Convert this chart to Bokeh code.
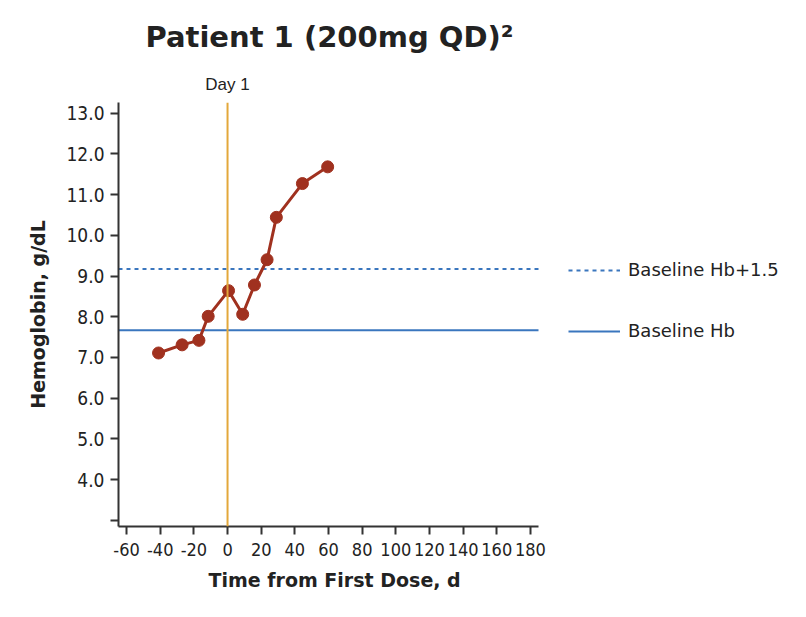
from bokeh.plotting import figure
from bokeh.models import (Span, Legend, LegendItem, FixedTicker, LinearAxis,
                          CustomJSTickFormatter, Range1d, Title)
from bokeh.embed import file_html
from bokeh.resources import INLINE

# ---- data ----
days = [-41, -27, -17, -11.5, 0.6, 9, 16, 23.5, 29, 44.5, 59.5]
hb = [7.11, 7.31, 7.42, 8.01, 8.64, 8.06, 8.78, 9.40, 10.44, 11.27, 11.68]
baseline_hb = 7.67
baseline_plus = 9.17
day1 = 0
day1_label = "Day 1"
x_min, x_max = -64.8, 184.8          # extent of the x axis
y_min, y_max = 2.85, 13.26
x_ticks = [-60, -40, -20, 0, 20, 40, 60, 80, 100, 120, 140, 160, 180]
y_ticks = [3, 4, 5, 6, 7, 8, 9, 10, 11, 12, 13]
title_text = "Patient 1 (200mg QD)\u00b2"
x_label = "Time from First Dose, d"
y_label = "Hemoglobin, g/dL"
legend_labels = ["Baseline Hb+1.5", "Baseline Hb"]

RED = "#A0311F"
BLUE = "#3A76BE"
ORANGE = "#E3A83A"
AX = "#333333"
TXT = "#222222"
TICK_FONT = "DejaVu Sans Condensed"

# the frame extends to the right edge so the legend area is part of it
X_RIGHT = x_min + (790 - 118) * (x_max - x_min) / 420.0

p = figure(width=790, height=601, output_backend="svg", toolbar_location=None,
           x_range=Range1d(x_min, X_RIGHT), y_range=Range1d(y_min, y_max),
           min_border_left=118, min_border_right=0, min_border_top=102,
           min_border_bottom=75)
p.outline_line_color = None
p.grid.visible = False
p.background_fill_color = "white"
p.border_fill_color = "white"

xa = p.below[0]
ya = p.left[0]

p.title.text = title_text
p.title.align = "left"
p.title.offset = 27
p.title.vertical_align = "top"
p.title.text_font = "DejaVu Sans"
p.title.text_font_style = "bold"
p.title.text_font_size = "29px"
p.title.text_color = TXT
p.title.standoff = 32

# vertical day-1 line and baseline lines
p.add_layout(Span(location=day1, dimension="height", line_color=ORANGE, line_width=2))
r_base = p.line([x_min, x_max], [baseline_hb, baseline_hb], line_color=BLUE, line_width=2)
r_plus = p.line([x_min, x_max], [baseline_plus, baseline_plus], line_color=BLUE,
                line_width=2, line_dash="4 4")

# "Day 1" marker label as a top axis with one tick
day_axis = LinearAxis(ticker=FixedTicker(ticks=[day1]),
                      formatter=CustomJSTickFormatter(args=dict(lbl=day1_label),
                                                      code="return lbl;"),
                      axis_line_color=None, major_tick_line_color=None,
                      minor_tick_line_color=None, major_label_standoff=3,
                      major_label_text_font="Liberation Sans",
                      major_label_text_font_size="17px",
                      major_label_text_color=TXT)
p.add_layout(day_axis, "above")

# data series
p.line(days, hb, line_color=RED, line_width=3)
p.scatter(days, hb, size=12, fill_color=RED, line_color=RED)

legend = Legend(items=[LegendItem(label=legend_labels[0], renderers=[r_plus]),
                       LegendItem(label=legend_labels[1], renderers=[r_base])],
                location=(450, 185), orientation="vertical",
                glyph_width=52, glyph_height=20, label_height=20, spacing=40,
                label_standoff=8, padding=0, margin=0, border_line_color=None,
                background_fill_alpha=0, label_text_font="DejaVu Sans",
                label_text_font_size="18px", label_text_color=TXT)
p.add_layout(legend, "center")

# x axis title placed under the axis extent (not the whole frame)
p.add_layout(Title(text=x_label, align="left", offset=90, standoff=16,
                   vertical_align="bottom",
                   text_font="DejaVu Sans", text_font_style="bold",
                   text_font_size="19px", text_color=TXT), "below")

# axes
xa.bounds = (x_min, x_max)
xa.ticker = FixedTicker(ticks=x_ticks)
xa.formatter = CustomJSTickFormatter(code="return tick.toFixed(0);")
ya.ticker = FixedTicker(ticks=y_ticks)
ya.formatter = CustomJSTickFormatter(code="return tick < 3.5 ? '' : tick.toFixed(1);")
ya.axis_label = y_label
for ax in (xa, ya):
    ax.axis_line_color = AX
    ax.axis_line_width = 2
    ax.major_tick_line_color = AX
    ax.major_tick_line_width = 2
    ax.major_tick_out = 8
    ax.major_tick_in = 0
    ax.minor_tick_line_color = None
    ax.major_label_text_font = TICK_FONT
    ax.major_label_text_color = TXT
    ax.axis_label_text_font = "DejaVu Sans"
    ax.axis_label_text_font_style = "bold"
    ax.axis_label_text_color = TXT
    ax.axis_label_text_font_size = "19px"
xa.major_label_text_font_size = "18px"
ya.major_label_text_font_size = "19px"
xa.major_label_standoff = 8
ya.major_label_standoff = 6
ya.axis_label_standoff = 14

open("out.html", "w").write(file_html(p, INLINE))
